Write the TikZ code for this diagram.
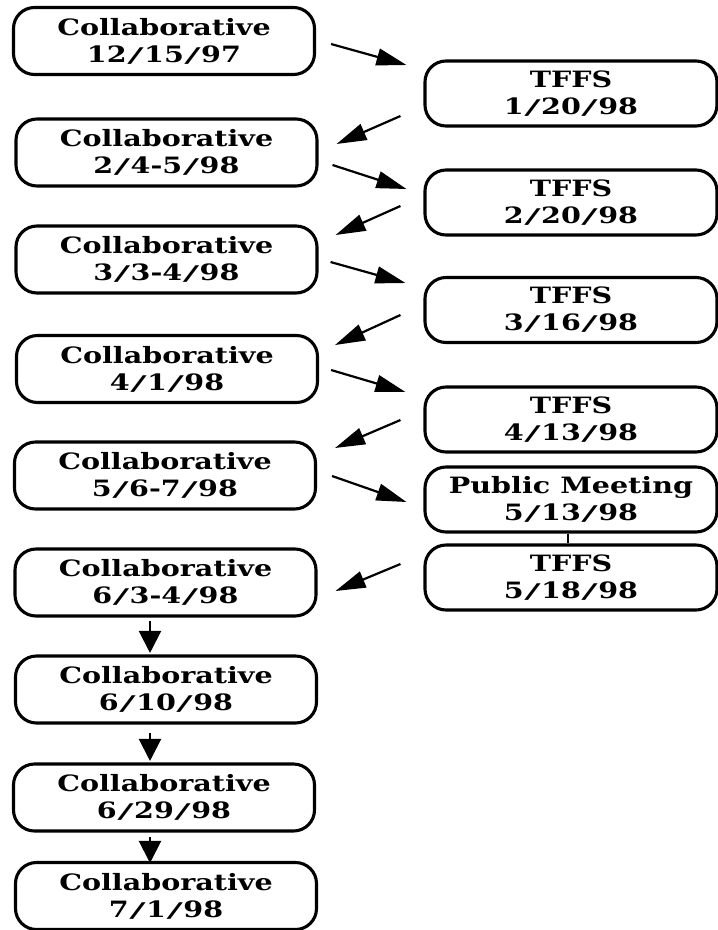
\documentclass[tikz,border=0pt]{standalone}
\usepackage{fontspec}
\usepackage{graphicx}
\newfontfamily\boxfont{DejaVu Serif}[FakeStretch=1.27]
% wide, shallow, light date separator
\newcommand\dsep{\kern0.5pt\scalebox{1.7}[0.9]{\mdseries/}\kern0.5pt}
\usetikzlibrary{arrows.meta,calc}
\begin{document}
\begin{tikzpicture}[x=1pt,y=-1pt,
  event/.style={draw, line width=3.1pt, rounded corners=21pt, align=center,
    inner sep=0pt, font=\boxfont\bfseries\fontsize{22.5}{27}\selectfont},
  leftbox/.style={event, minimum width=301pt, minimum height=67pt},
  rightbox/.style={event, minimum width=292pt, minimum height=65pt},
  flow/.style={line width=2.2pt, -{Triangle[length=30pt,width=17pt]}},
  down/.style={line width=2.2pt, -{Triangle[length=22pt,width=22pt]}},
  link/.style={line width=1.6pt}
]
\useasboundingbox (0,0) rectangle (718,930);

% collaborative meetings (left column)
\node[leftbox] (c1) at (164,41)      {Collaborative\\12\dsep15\dsep97};
\node[leftbox] (c2) at (166.5,152.5) {Collaborative\\2\dsep4-5\dsep98};
\node[leftbox] (c3) at (166.5,259.5) {Collaborative\\3\dsep3-4\dsep98};
\node[leftbox] (c4) at (167,369)     {Collaborative\\4\dsep1\dsep98};
\node[leftbox] (c5) at (165,475.5)   {Collaborative\\5\dsep6-7\dsep98};
\node[leftbox] (c6) at (165.5,582.5) {Collaborative\\6\dsep3-4\dsep98};
\node[leftbox] (c7) at (166,689.5)   {Collaborative\\6\dsep10\dsep98};
\node[leftbox] (c8) at (164,797.5)   {Collaborative\\6\dsep29\dsep98};
\node[leftbox] (c9) at (166,896)     {Collaborative\\7\dsep1\dsep98};

% TFFS meetings and the public meeting (right column)
\node[rightbox] (t1) at (571,93.5)  {TFFS\\1\dsep20\dsep98};
\node[rightbox] (t2) at (571,202.5) {TFFS\\2\dsep20\dsep98};
\node[rightbox] (t3) at (571,310)   {TFFS\\3\dsep16\dsep98};
\node[rightbox] (t4) at (571,419.5) {TFFS\\4\dsep13\dsep98};
\node[rightbox] (pm) at (571,499.5) {Public Meeting\\5\dsep13\dsep98};
\node[rightbox] (t5) at (571,577.5) {TFFS\\5\dsep18\dsep98};

% zig-zag between the columns
\draw[flow] ($(c1.east)+(15,3)$)      -- ($(t1.west)+(-17,-28.5)$);
\draw[flow] ($(t1.west)+(-23,22.5)$)  -- ($(c2.east)+(18,-8.5)$);
\draw[flow] ($(c2.east)+(14,12.5)$)   -- ($(t2.west)+(-17,-13.5)$);
\draw[flow] ($(t2.west)+(-23,3.5)$)   -- ($(c3.east)+(17,-24.5)$);
\draw[flow] ($(c3.east)+(12,2.5)$)    -- ($(t3.west)+(-18,-27)$);
\draw[flow] ($(t3.west)+(-23,5)$)     -- ($(c4.east)+(16,-24)$);
\draw[flow] ($(c4.east)+(12,1)$)      -- ($(t4.west)+(-18,-27.5)$);
\draw[flow] ($(t4.west)+(-23,0.5)$)   -- ($(c5.east)+(18,-27.5)$);
\draw[flow] ($(c5.east)+(15,0.5)$)    -- ($(pm.west)+(-17,2.5)$);
\draw[flow] ($(t5.west)+(-23,-13.5)$) -- ($(c6.east)+(18,8.5)$);

% public meeting joined to the following TFFS session
\draw[link] ($(pm.south)+(-3,0)$) -- ($(t5.north)+(-3,0)$);

% final collaborative sequence
\draw[down] ($(c6.south)+(-15.5,3)$) -- ($(c7.north)+(-16,-1.5)$);
\draw[down] ($(c7.south)+(-16,8)$)   -- ($(c8.north)+(-14,-1.5)$);
\draw[down] ($(c8.south)+(-14,4)$)   -- ($(c9.north)+(-16,2)$);
\end{tikzpicture}
\end{document}
